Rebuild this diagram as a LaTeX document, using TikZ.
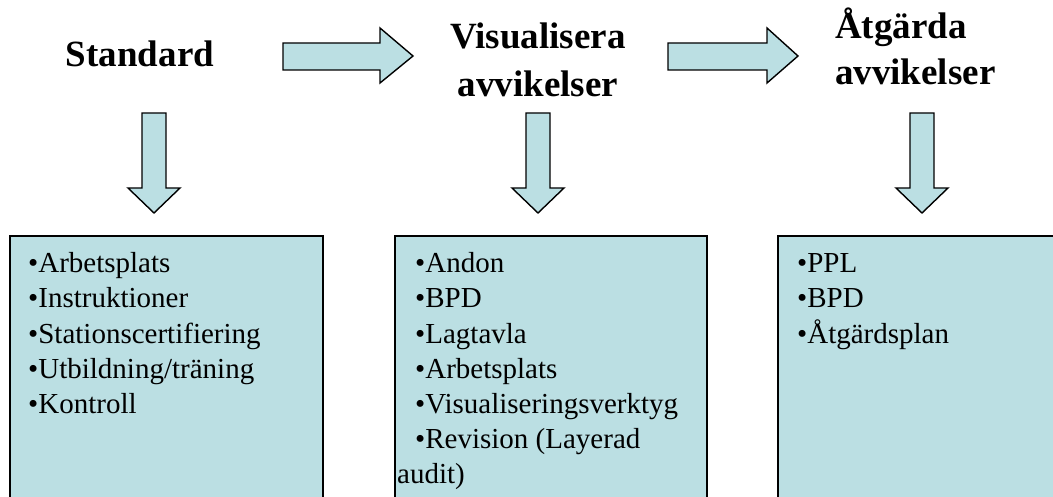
\documentclass[tikz,border=0pt]{standalone}
\usepackage{fontspec}
\setmainfont{Liberation Serif}
\definecolor{boxfill}{RGB}{187,223,227}
\begin{document}
\begin{tikzpicture}[x=1pt,y=-1pt,
  blockarrow/.style={draw=black,line width=1.4pt,fill=boxfill,line join=miter},
  listbox/.style={draw=black,line width=1.5pt,fill=boxfill},
  heading/.style={font=\fontsize{37}{40}\selectfont\bfseries,inner sep=0pt},
  item/.style={font=\fontsize{29}{33}\selectfont,inner sep=0pt,anchor=base west}]
\useasboundingbox (0,0) rectangle (1053,497);
\clip (0,0) rectangle (1053,497);

% headings
\node[heading,anchor=base] (std) at (140,67) {Standard};
\node[heading,anchor=base] (vis1) at (538,49) {Visualisera};
\node[heading,anchor=base] (vis2) at (538,97) {avvikelser};
\node[heading,anchor=base west] (atg1) at (835,39) {Åtgärda};
\node[heading,anchor=base west] (atg2) at (835,85) {avvikelser};

% block arrows between the headings
\draw[blockarrow] (283,43) -- (380,43) -- (380,28) -- (413,56) -- (380,83) -- (380,70) -- (283,70) -- cycle;
\draw[blockarrow] (668,43) -- (767,43) -- (767,28) -- (798,56) -- (767,83) -- (767,70) -- (668,70) -- cycle;

% block arrows down to the lists
\foreach \c in {154,538,922}{
  \draw[blockarrow] (\c-12,113) -- (\c+12,113) -- (\c+12,188) -- (\c+26,188) -- (\c,213)
    -- (\c-26,188) -- (\c-12,188) -- cycle;
}

% list boxes (running past the lower edge)
\draw[listbox] (10,236) rectangle (323,520);
\draw[listbox] (395,236) rectangle (707,520);
\draw[listbox] (778,236) rectangle (1070,520);

% first list
\node[item] (a1) at (28,273) {•Arbetsplats};
\node[item] (a2) at (28,308) {•Instruktioner};
\node[item] (a3) at (28,343) {•Stationscertifiering};
\node[item] (a4) at (28,378) {•Utbildning/träning};
\node[item] (a5) at (28,413) {•Kontroll};

% second list
\node[item] (b1) at (415,273) {•Andon};
\node[item] (b2) at (415,308) {•BPD};
\node[item] (b3) at (415,343) {•Lagtavla};
\node[item] (b4) at (415,378) {•Arbetsplats};
\node[item] (b5) at (415,413) {•Visualiseringsverktyg};
\node[item] (b6) at (415,448) {•Revision (Layerad};
\node[item] (b7) at (397,483) {audit)};

% third list
\node[item] (c1) at (797,273) {•PPL};
\node[item] (c2) at (797,308) {•BPD};
\node[item] (c3) at (797,343) {•Åtgärdsplan};
\end{tikzpicture}
\end{document}
